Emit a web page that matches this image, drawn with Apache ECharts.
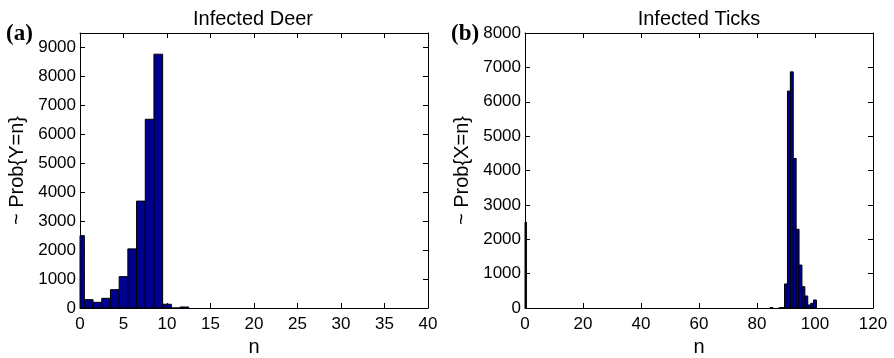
<!DOCTYPE html>
<html>
<head>
<meta charset="utf-8">
<script src="https://cdn.jsdelivr.net/npm/echarts@6/dist/echarts.min.js"></script>
<style>
  html, body { margin: 0; padding: 0; background: #fff; }
  #chart { width: 894px; height: 358px; }
</style>
</head>
<body>
<div id="chart"></div>
<script>
// histogram bins (bin centre n) and heights
const deerN = [0, 1, 2, 3, 4, 5, 6, 7, 8, 9, 10, 11, 12];
const deerCount = [2500, 288, 196, 335, 634, 1084, 2042, 3693, 6519, 8768, 130, 0, 35];

const tickN = [0, 85, 88, 89, 90, 91, 92, 93, 94, 95, 96, 97, 98, 99, 100];
const tickCount = [2500, 15, 5, 12, 700, 6310, 6870, 4350, 2290, 1250, 620, 350, 87, 136, 233];

const titles = ['Infected Deer', 'Infected Ticks'];
const yNames = ['~ Prob{Y=n}', '~ Prob{X=n}'];
const panelTags = ['(a)', '(b)'];

const FONT = 'Liberation Sans, Arial, sans-serif';
const BAR_FILL = '#00008f';

const chart = echarts.init(document.getElementById('chart'), null, { renderer: 'canvas' });

// bars are one unit wide, centred on n, clipped to the plot box
function renderHist(params, api) {
  const n = api.value(0);
  const v = api.value(1);
  const top = api.coord([n - 0.5, v]);
  const base = api.coord([n + 0.5, 0]);
  const cs = params.coordSys;
  const shape = echarts.graphic.clipRectByRect(
    { x: top[0], y: top[1], width: base[0] - top[0], height: base[1] - top[1] },
    { x: cs.x, y: cs.y, width: cs.width, height: cs.height }
  );
  if (!shape) return null;
  return {
    type: 'rect',
    shape: shape,
    style: { fill: BAR_FILL, stroke: '#000', lineWidth: 1 }
  };
}

const plain = (v) => String(v);
const tickStyle = { show: true, inside: true, length: 5, lineStyle: { color: '#000', width: 1 } };
const lineStyle = { show: true, onZero: false, lineStyle: { color: '#000', width: 1 } };

function mainX(gridIndex, max, interval) {
  return {
    type: 'value', gridIndex, min: 0, max, interval,
    position: 'bottom',
    name: 'n', nameLocation: 'middle', nameGap: 29,
    nameTextStyle: { color: '#000', fontSize: 20, fontFamily: FONT },
    axisLine: lineStyle, axisTick: tickStyle,
    axisLabel: { color: '#000', fontSize: 17, fontFamily: FONT, margin: 8, formatter: plain },
    splitLine: { show: false }
  };
}
function mirrorX(gridIndex, max, interval) {
  return {
    type: 'value', gridIndex, min: 0, max, interval, position: 'top',
    axisLine: lineStyle, axisTick: tickStyle,
    axisLabel: { show: false }, splitLine: { show: false }
  };
}
function mainY(gridIndex, max, name) {
  return {
    type: 'value', gridIndex, min: 0, max, interval: 1000,
    position: 'left',
    name, nameLocation: 'middle', nameGap: 53,
    nameTextStyle: { color: '#000', fontSize: 20, fontFamily: FONT },
    axisLine: lineStyle, axisTick: tickStyle,
    axisLabel: { color: '#000', fontSize: 17, fontFamily: FONT, margin: 4,
      showMaxLabel: max % 1000 === 0, formatter: plain },
    splitLine: { show: false }
  };
}
function mirrorY(gridIndex, max) {
  return {
    type: 'value', gridIndex, min: 0, max, interval: 1000, position: 'right',
    axisLine: lineStyle, axisTick: tickStyle,
    axisLabel: { show: false }, splitLine: { show: false }
  };
}

const option = {
  backgroundColor: '#fff',
  animation: false,
  title: [
    { text: titles[0], left: 248, top: 4, textAlign: 'center',
      textStyle: { color: '#000', fontSize: 20, fontWeight: 'normal', fontFamily: FONT } },
    { text: titles[1], left: 694, top: 4, textAlign: 'center',
      textStyle: { color: '#000', fontSize: 20, fontWeight: 'normal', fontFamily: FONT } }
  ],
  graphic: [
    { type: 'text', left: 6, top: 23,
      style: { text: panelTags[0], font: 'bold 23px "Liberation Serif", serif', fill: '#000' } },
    { type: 'text', left: 451, top: 23,
      style: { text: panelTags[1], font: 'bold 23px "Liberation Serif", serif', fill: '#000' } }
  ],
  grid: [
    { left: 80, right: 466, top: 33, bottom: 50, outerBoundsMode: 'none', containLabel: false },
    { left: 525, right: 21, top: 33, bottom: 50, outerBoundsMode: 'none', containLabel: false }
  ],
  xAxis: [
    mainX(0, 40, 5), mirrorX(0, 40, 5),
    mainX(1, 120, 20), mirrorX(1, 120, 20)
  ],
  yAxis: [
    mainY(0, 9500, yNames[0]), mirrorY(0, 9500),
    mainY(1, 8000, yNames[1]), mirrorY(1, 8000)
  ],
  series: [
    {
      type: 'custom', xAxisIndex: 0, yAxisIndex: 0,
      renderItem: renderHist,
      data: deerN.map((n, i) => [n, deerCount[i]])
    },
    {
      type: 'custom', xAxisIndex: 2, yAxisIndex: 2,
      renderItem: renderHist,
      data: tickN.map((n, i) => [n, tickCount[i]])
    }
  ]
};

chart.setOption(option);
</script>
</body>
</html>
